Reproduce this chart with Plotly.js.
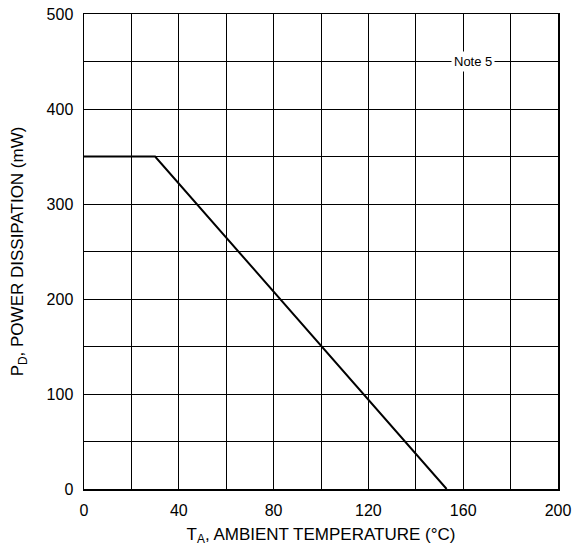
<!DOCTYPE html>
<html><head><script src="https://cdn.plot.ly/plotly-3.0.1.min.js"></script>
<style>body{margin:0}</style></head><body>
<div id="c" style="width:577px;height:548px"></div>
<script>
const tempC = [0, 30, 153];
const powerMW = [350, 350, 0];
const xTickVals = [0,20,40,60,80,100,120,140,160,180,200];
const xTickText = ['0','','40','','80','','120','','160','','200'];
const yTickVals = [0,50,100,150,200,250,300,350,400,450,500];
const yTickText = ['0','','100','','200','','300','','400','','500'];
const noteText = 'Note 5';
const noteX = 164, noteY = 450;

const ax = {showline:true, mirror:true, linecolor:'#000', linewidth:1.5, gridcolor:'#000', gridwidth:1,
  zeroline:false, ticks:'', tickfont:{size:16, color:'#000'}, ticklabelstandoff:6};
Plotly.newPlot('c', [{x:tempC, y:powerMW, mode:'lines', line:{color:'#000', width:2}, hoverinfo:'none'}], {
  width:577, height:548, margin:{l:84, r:19, t:14, b:59},
  font:{family:'Liberation Sans, Arial', color:'#000'},
  showlegend:false, paper_bgcolor:'#fff', plot_bgcolor:'#fff',
  xaxis:Object.assign({}, ax, {range:[0,200], tickmode:'array', tickvals:xTickVals, ticktext:xTickText,
    title:{text:'T<sub>A</sub>, AMBIENT TEMPERATURE (°C)', font:{size:17}, standoff:10}}),
  yaxis:Object.assign({}, ax, {range:[0,500], tickmode:'array', tickvals:yTickVals, ticktext:yTickText,
    title:{text:'P<sub>D</sub>, POWER DISSIPATION (mW)', font:{size:17}, standoff:18}}),
  annotations:[{x:noteX, y:noteY, text:noteText, showarrow:false, bgcolor:'#fff', font:{size:13}, borderpad:2}]
}, {staticPlot:true});
</script></body></html>
